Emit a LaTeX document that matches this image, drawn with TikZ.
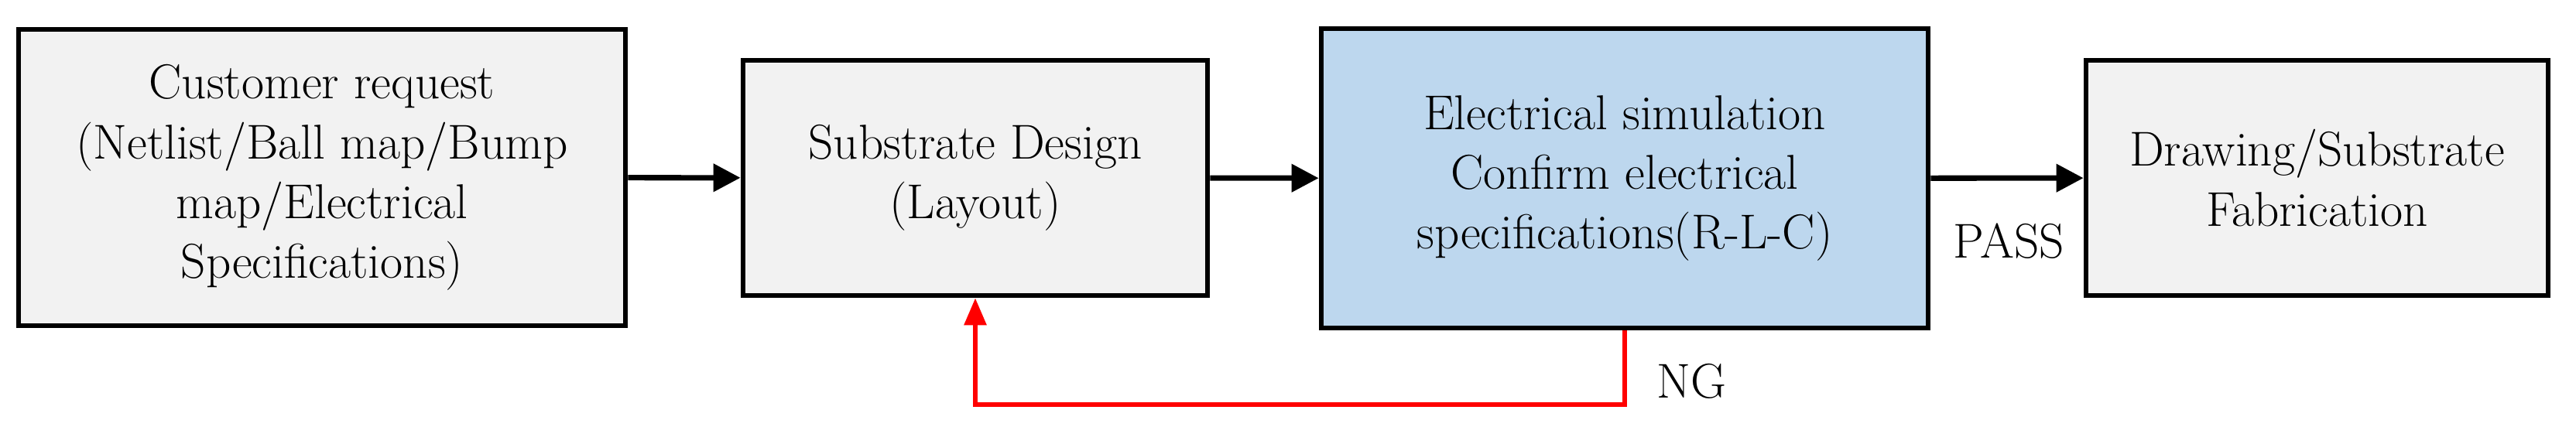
\documentclass[tikz,border=0pt]{standalone}
\usetikzlibrary{arrows.meta}
\definecolor{boxgray}{HTML}{F2F2F2}
\definecolor{boxblue}{HTML}{BDD7EE}
\begin{document}
\begin{tikzpicture}[
  box/.style={draw=black, line width=1.9pt, fill=boxgray, align=center, inner sep=0pt,
    font=\fontsize{18}{22}\selectfont},
  flow/.style={line width=2pt, -{Triangle[length=10pt,width=10pt]}},
  back/.style={red, line width=1.7pt, -{Triangle[length=10pt,width=8pt]}},
  lbl/.style={font=\fontsize{18}{22}\selectfont, inner sep=0pt}
]
\useasboundingbox (0,0) rectangle (33.28,5.52);
\node[box, minimum width=7.84cm, minimum height=3.83cm] (a) at (4.16,3.225)
  {Customer request\\(Netlist/Ball map/Bump\\map/Electrical\\Specifications)};
\node[box, minimum width=6.0cm, minimum height=3.04cm] (b) at (12.6,3.22)
  {Substrate Design\\(Layout)};
\node[box, fill=boxblue, minimum width=7.84cm, minimum height=3.87cm] (c) at (20.99,3.215)
  {Electrical simulation\\Confirm electrical\\specifications(R-L-C)};
\node[box, minimum width=5.97cm, minimum height=3.04cm] (d) at (29.935,3.22)
  {Drawing/Substrate\\Fabrication};
\draw[flow] (a) -- (b);
\draw[flow] (b) -- (c);
\draw[flow] (c) -- (d);
\coordinate (r1) at (20.99,0.29);
\coordinate (r2) at (12.6,0.29);
\draw[back] (c.south) -- (r1) -- (r2) -- (b.south);
\node[lbl, anchor=west] (ng) at (21.4,0.59) {NG};
\node[lbl] (pass) at (25.95,2.40) {PASS};
\end{tikzpicture}
\end{document}
